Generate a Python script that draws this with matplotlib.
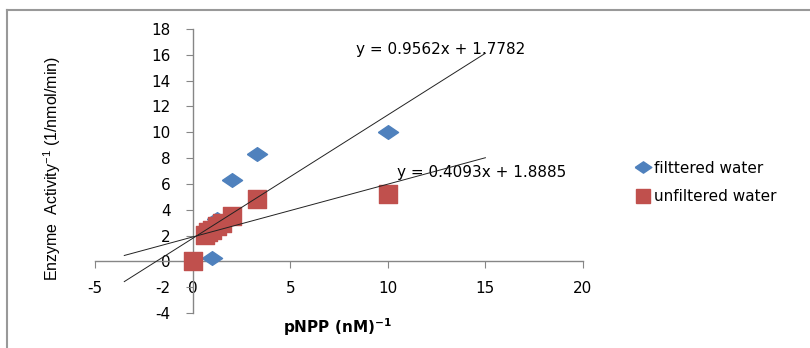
import numpy as np
import matplotlib.pyplot as plt
from matplotlib.lines import Line2D

plt.rcParams['axes.unicode_minus'] = False
plt.rcParams['mathtext.default'] = 'regular'

# data
filt_x = [1.0, 1.25, 2.0, 3.3, 10.0]
filt_y = [0.25, 3.3, 6.3, 8.3, 10.0]
unfilt_x = [0.0, 0.65, 0.8, 1.0, 1.25, 1.5, 2.0, 3.3, 10.0]
unfilt_y = [0.0, 2.05, 2.25, 2.45, 2.75, 3.0, 3.55, 4.8, 5.25]
filt_fit = [0.9562, 1.7782]
unfilt_fit = [0.4093, 1.8885]
fit_range = [-3.5, 15.0]
x_ticks = [-5, 0, 5, 10, 15, 20]
y_ticks = [-4, -2, 0, 2, 4, 6, 8, 10, 12, 14, 16, 18]

blue = '#4F81BD'
red = '#C0504D'
axis_col = '#868686'
fs = 11

fig = plt.figure(figsize=(8.1, 3.48), dpi=100)
ax = fig.add_axes([95/810, 35/348, 488/810, 284/348])

diamond = [(-1, 0), (0, 0.68), (1, 0), (0, -0.68), (-1, 0)]
ax.scatter(filt_x, filt_y, marker=diamond, s=210, color=blue, zorder=3)
ax.scatter(unfilt_x, unfilt_y, marker='s', s=180, color=red, zorder=4)

xf = np.array(fit_range)
ax.plot(xf, filt_fit[0]*xf + filt_fit[1], color='#222222', lw=0.7, zorder=5)
ax.plot(xf, unfilt_fit[0]*xf + unfilt_fit[1], color='#222222', lw=0.7, zorder=5)

ax.set_xlim(-5, 20)
ax.set_ylim(-4, 18)
for s in ['top', 'right']:
    ax.spines[s].set_visible(False)
ax.spines['left'].set_position(('data', 0))
ax.spines['bottom'].set_position(('data', 0))
for s in ['left', 'bottom']:
    ax.spines[s].set_color(axis_col)
    ax.spines[s].set_linewidth(1.0)
ax.set_xticks(x_ticks)
ax.set_yticks(y_ticks)
ax.tick_params(axis='x', direction='out', length=5, pad=9, color=axis_col, labelsize=fs)
ax.tick_params(axis='y', direction='out', length=5, pad=11, color=axis_col, labelsize=fs)
ax.patch.set_alpha(0)

# equation labels
ax.text(12.7, 16.4, 'y = 0.9562x + 1.7782', fontsize=fs, ha='center', va='center')
ax.text(14.8, 6.9, 'y = 0.4093x + 1.8885', fontsize=fs, ha='center', va='center')

# legend
handles = [Line2D([], [], marker=diamond, ls='', color=blue, markersize=12),
           Line2D([], [], marker='s', ls='', color=red, markersize=10)]
fig.legend(handles, ['filttered water', 'unfiltered water'], loc='upper left',
           bbox_to_anchor=(628/810, 1 - 153/348), frameon=False, fontsize=fs,
           handletextpad=0.2, handlelength=1.0, labelspacing=0.9, borderpad=0)

fig.text(338/810, 1 - 327/348, r'pNPP (nM)$^{-1}$', fontsize=11,
         fontweight='bold', ha='center', va='center')
fig.text(52/810, 1 - 168/348, r'Enzyme  Activity$^{-1}$ (1/nmol/min)',
         family='Liberation Sans', fontsize=11.5, rotation=90, ha='center', va='center')

# chart area border (top and left only visible)
fig.add_artist(Line2D([7/810, 1], [1 - 10/348, 1 - 10/348], color='#999999', lw=1.5))
fig.add_artist(Line2D([7/810, 7/810], [0, 1 - 10/348], color='#999999', lw=1.5))

fig.savefig('out.png', dpi=100)
